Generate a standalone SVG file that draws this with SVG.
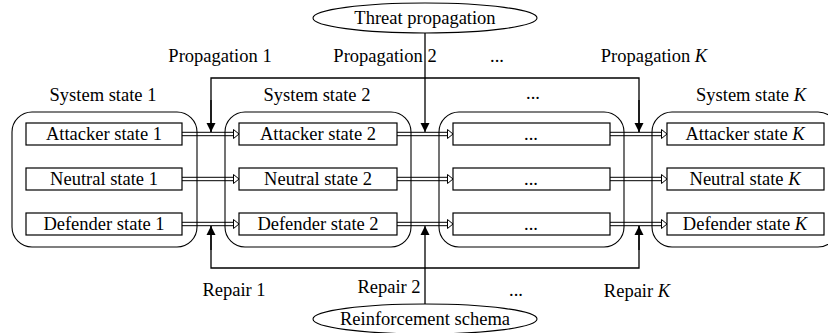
<svg xmlns="http://www.w3.org/2000/svg" xmlns:xlink="http://www.w3.org/1999/xlink" width="828" height="333" viewBox="0 0 828 333">
<style>
text{font-family:"Liberation Serif","Times New Roman",serif;font-size:18.5px;fill:#000;text-anchor:middle}
.k{font-style:italic}
.cont{fill:none;stroke:#000;stroke-width:1.1}
.box{fill:#fff;stroke:#000;stroke-width:1.2}
.ell{fill:#fff;stroke:#000;stroke-width:1.1}
.ln{fill:none;stroke:#000;stroke-width:1.3}
.dl{fill:none;stroke:#000;stroke-width:1}
.dh{fill:#fff;stroke:#000;stroke-width:1}
</style>
<defs>
<marker id="ah" markerUnits="userSpaceOnUse" markerWidth="10" markerHeight="10" viewBox="0 0 10 10" refX="9" refY="5" orient="auto">
<path d="M0,0.5 L9,5 L0,9.5 Z" fill="#000"/>
</marker>
<g id="dbl">
<line class="dl" x1="0" y1="-1.7" x2="52" y2="-1.7"/>
<line class="dl" x1="0" y1="1.7" x2="52" y2="1.7"/>
<path class="dh" d="M51.5,-4.5 L57,0 L51.5,4.5 Z"/>
</g>
</defs>
<rect width="828" height="333" fill="#fff"/>

<g id="connectors">
<!-- double transitions -->
<use xlink:href="#dbl" x="182" y="134"/>
<use xlink:href="#dbl" x="182" y="179"/>
<use xlink:href="#dbl" x="182" y="224"/>
<use xlink:href="#dbl" x="396" y="134"/>
<use xlink:href="#dbl" x="396" y="179"/>
<use xlink:href="#dbl" x="396" y="224"/>
<use xlink:href="#dbl" x="610" y="134"/>
<use xlink:href="#dbl" x="610" y="179"/>
<use xlink:href="#dbl" x="610" y="224"/>
<!-- propagation -->
<polyline class="ln" points="211,132 211,78 639,78 639,132" style="marker-end:none"/>
<line class="ln" x1="211" y1="100" x2="211" y2="132" marker-end="url(#ah)"/>
<line class="ln" x1="639" y1="100" x2="639" y2="132" marker-end="url(#ah)"/>
<line class="ln" x1="425" y1="33" x2="425" y2="132" marker-end="url(#ah)"/>
<!-- repair -->
<polyline class="ln" points="211,226 211,268 639,268 639,226"/>
<line class="ln" x1="211" y1="250" x2="211" y2="226" marker-end="url(#ah)"/>
<line class="ln" x1="639" y1="250" x2="639" y2="226" marker-end="url(#ah)"/>
<line class="ln" x1="425" y1="304" x2="425" y2="226" marker-end="url(#ah)"/>
</g>

<g id="state1">
<rect class="cont" x="12" y="112" width="185" height="135" rx="20" ry="20"/>
<text x="103" y="101">System state 1</text>
<rect class="box" x="26" y="123" width="156" height="22"/>
<text x="104" y="140">Attacker state 1</text>
<rect class="box" x="26" y="168" width="156" height="22"/>
<text x="104" y="185">Neutral state 1</text>
<rect class="box" x="26" y="213" width="156" height="22"/>
<text x="104" y="230">Defender state 1</text>
</g>

<g id="state2">
<rect class="cont" x="225" y="112" width="186" height="135" rx="20" ry="20"/>
<text x="317" y="101">System state 2</text>
<rect class="box" x="239" y="123" width="158" height="22"/>
<text x="318" y="140">Attacker state 2</text>
<rect class="box" x="239" y="168" width="158" height="22"/>
<text x="318" y="185">Neutral state 2</text>
<rect class="box" x="239" y="213" width="158" height="22"/>
<text x="318" y="230">Defender state 2</text>
</g>

<g id="state3">
<rect class="cont" x="439" y="112" width="185" height="135" rx="20" ry="20"/>
<text x="533" y="99">...</text>
<rect class="box" x="453" y="123" width="157" height="22"/>
<text x="531" y="140">...</text>
<rect class="box" x="453" y="168" width="157" height="22"/>
<text x="531" y="185">...</text>
<rect class="box" x="453" y="213" width="157" height="22"/>
<text x="531" y="230">...</text>
</g>

<g id="stateK">
<rect class="cont" x="652" y="112" width="186" height="135" rx="20" ry="20"/>
<text x="751" y="101">System state <tspan class="k">K</tspan></text>
<rect class="box" x="667" y="123" width="157" height="22"/>
<text x="745" y="140">Attacker state <tspan class="k">K</tspan></text>
<rect class="box" x="667" y="168" width="157" height="22"/>
<text x="745" y="185">Neutral state <tspan class="k">K</tspan></text>
<rect class="box" x="667" y="213" width="157" height="22"/>
<text x="745" y="230">Defender state <tspan class="k">K</tspan></text>
</g>

<g id="threat">
<ellipse class="ell" cx="425" cy="18" rx="112" ry="15"/>
<text x="425" y="24">Threat propagation</text>
</g>

<g id="reinforcement">
<ellipse class="ell" cx="425" cy="319" rx="112" ry="15"/>
<text x="425" y="325">Reinforcement schema</text>
</g>

<g id="labels">
<text x="220" y="62">Propagation 1</text>
<text x="385" y="62">Propagation 2</text>
<text x="497" y="62">...</text>
<text x="654" y="62">Propagation <tspan class="k">K</tspan></text>
<text x="234" y="296">Repair 1</text>
<text x="389" y="293">Repair 2</text>
<text x="516" y="296">...</text>
<text x="637" y="297">Repair <tspan class="k">K</tspan></text>
</g>
</svg>
